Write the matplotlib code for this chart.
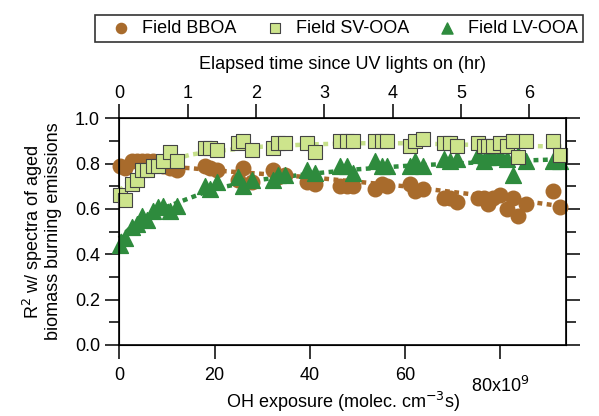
import matplotlib.pyplot as plt
from matplotlib.ticker import MultipleLocator

plt.rcParams['font.family'] = ['Liberation Sans', 'DejaVu Sans']

# OH exposure (x10^9 molec cm-3 s), shared by all three series
oh_exp = [0.15, 1.2, 2.7, 3.7, 4.8, 5.8, 7.1, 8.1, 9.2, 10.7, 12.1, 18.0, 19.1, 20.5,
          24.9, 26.0, 27.9, 32.3, 33.3, 34.8, 39.5, 41.1, 46.3, 47.9, 49.1, 53.7,
          55.2, 56.3, 61.1, 62.1, 63.7, 68.1, 69.5, 70.9, 75.3, 76.5, 77.5, 78.5,
          79.9, 81.5, 82.7, 83.7, 85.3, 91.1, 92.6]

bboa = [0.79, 0.78, 0.81, 0.81, 0.81, 0.81, 0.81, 0.80, 0.79, 0.78, 0.77, 0.79, 0.78, 0.77,
        0.73, 0.78, 0.72, 0.77, 0.74, 0.75, 0.72, 0.71, 0.70, 0.70, 0.70, 0.69,
        0.71, 0.70, 0.71, 0.68, 0.69, 0.65, 0.65, 0.63, 0.65, 0.65, 0.62, 0.65,
        0.66, 0.60, 0.65, 0.57, 0.62, 0.68, 0.61]

sv_ooa = [0.66, 0.64, 0.71, 0.73, 0.77, 0.77, 0.79, 0.79, 0.81, 0.85, 0.81, 0.87, 0.87, 0.86,
          0.89, 0.90, 0.86, 0.87, 0.89, 0.89, 0.89, 0.85, 0.90, 0.90, 0.90, 0.90,
          0.90, 0.90, 0.88, 0.90, 0.91, 0.89, 0.89, 0.88, 0.89, 0.88, 0.88, 0.88,
          0.89, 0.88, 0.90, 0.83, 0.90, 0.90, 0.84]

lv_ooa = [0.44, 0.47, 0.52, 0.535, 0.57, 0.55, 0.59, 0.61, 0.615, 0.59, 0.615, 0.70, 0.69, 0.72,
          0.74, 0.70, 0.73, 0.73, 0.75, 0.75, 0.77, 0.76, 0.79, 0.79, 0.76, 0.81,
          0.79, 0.79, 0.79, 0.81, 0.79, 0.82, 0.81, 0.82, 0.84, 0.81, 0.83, 0.83,
          0.84, 0.82, 0.75, 0.84, 0.81, 0.81, 0.81]

# fit curves
fit_x = [0, 3, 6, 10, 15, 20, 30, 40, 50, 60, 70, 80, 93.5]
bboa_fit = [0.79, 0.79, 0.79, 0.785, 0.78, 0.77, 0.755, 0.74, 0.72, 0.70, 0.675, 0.65, 0.61]
sv_fit = [0.68, 0.74, 0.78, 0.81, 0.84, 0.855, 0.875, 0.885, 0.89, 0.89, 0.885, 0.88, 0.875]
lv_fit = [0.47, 0.53, 0.57, 0.61, 0.65, 0.69, 0.73, 0.755, 0.775, 0.79, 0.80, 0.81, 0.82]

top_ticks = [0, 1, 2, 3, 4, 5, 6]

c_bboa = '#A86B2C'
c_sv = '#CDE48C'
c_sv_line = '#C6E08A'
c_lv = '#2E8B3D'

fig = plt.figure(figsize=(5.99, 4.16), dpi=100)
ax = fig.add_axes([0.1992, 0.1707, 0.7457, 0.5449])

for fy, fc in [(bboa_fit, c_bboa), (sv_fit, c_sv_line), (lv_fit, c_lv)]:
    ax.plot(fit_x, fy, color=fc, lw=3.2, dashes=(1.1, 1.0), zorder=1, clip_on=False)

ax.scatter(oh_exp, bboa, s=110, marker='o', color=c_bboa, zorder=2, clip_on=False,
           label='Field BBOA')
ax.scatter(oh_exp, sv_ooa, s=110, marker='s', facecolor=c_sv, edgecolor='#444444',
           linewidth=0.8, zorder=3, clip_on=False, label='Field SV-OOA')
ax.scatter(oh_exp, lv_ooa, s=130, marker='^', color=c_lv, zorder=2, clip_on=False,
           label='Field LV-OOA')

ax.set_xlim(0, 93.8)
ax.set_ylim(0, 1.0)
ax.set_xticks([0, 20, 40, 60, 80])
ax.set_xticklabels(['0', '20', '40', '60', ''])
ax.text(80, -0.207, '80x10$^9$', ha='center', va='baseline', fontsize=13)
ax.set_yticks([0, 0.2, 0.4, 0.6, 0.8, 1.0])
ax.set_yticklabels(['0.0', '0.2', '0.4', '0.6', '0.8', '1.0'])
ax.yaxis.set_minor_locator(MultipleLocator(0.1))
ax.tick_params(axis='both', which='major', direction='out', length=10, width=1.1,
               labelsize=13, right=True)
ax.tick_params(axis='x', pad=6)
ax.tick_params(axis='y', pad=4)
ax.tick_params(axis='y', which='minor', direction='out', length=7, width=1.1, right=True)
ax.set_xlabel('OH exposure (molec. cm$^{-3}$s)', fontsize=13, labelpad=4)
ax.set_ylabel('R$^2$ w/ spectra of aged\nbiomass burning emissions', fontsize=13,
              labelpad=9, linespacing=1.05)
for sp in ax.spines.values():
    sp.set_linewidth(1.2)

ax2 = ax.twiny()
ax2.set_xlim(0, 6.54)
ax2.set_xticks(top_ticks)
ax2.tick_params(axis='x', direction='out', length=10, width=1.1, labelsize=13, pad=2)
ax2.set_xlabel('Elapsed time since UV lights on (hr)', fontsize=13, labelpad=11)

leg = fig.legend(loc='center', bbox_to_anchor=(0.566, 0.9315), ncol=3, fontsize=13,
                 frameon=True, fancybox=False, edgecolor='black', scatterpoints=1,
                 handletextpad=0.0, columnspacing=0.95, borderpad=0.3,
                 handlelength=2.33, markerscale=0.7, borderaxespad=0)
leg.get_frame().set_linewidth(1.2)

fig.savefig('out.png', dpi=100)
